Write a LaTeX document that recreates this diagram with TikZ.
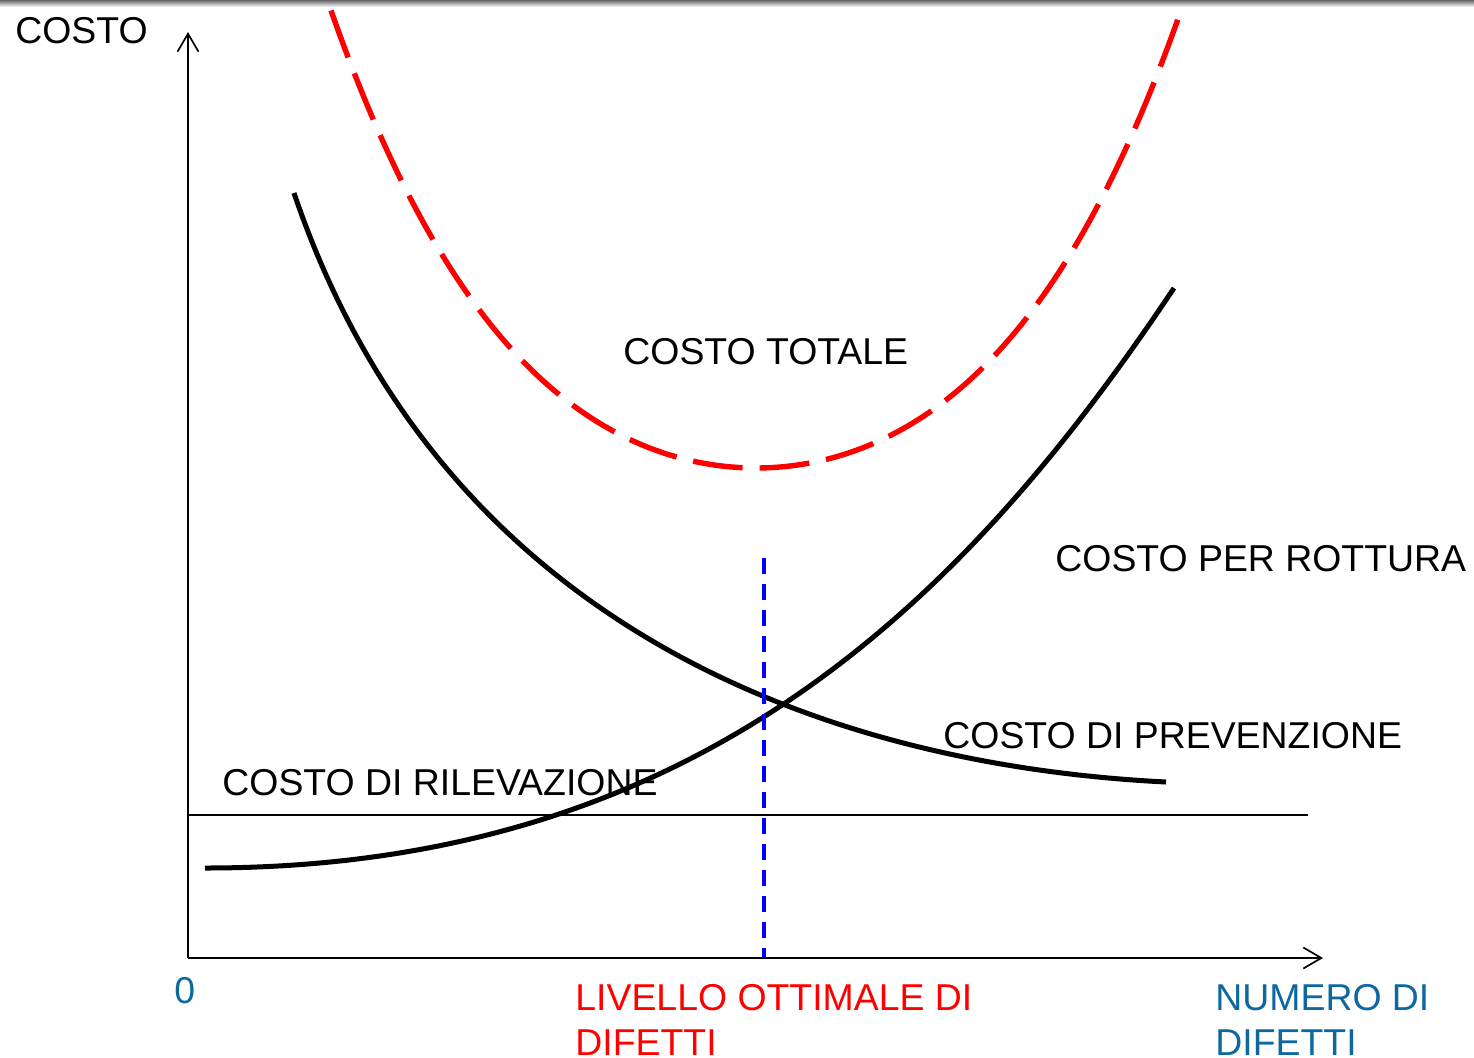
\documentclass[tikz,border=0pt]{standalone}
\usepackage{fontspec}
\setmainfont{Liberation Sans}
\usetikzlibrary{arrows.meta}
\definecolor{labelblue}{RGB}{14,104,160}
\definecolor{totred}{RGB}{255,0,0}
\definecolor{optblue}{RGB}{0,0,255}
\begin{document}
\begin{tikzpicture}[x=0.5pt,y=-0.5pt,
  lbl/.style={anchor=base west, inner sep=0pt, font=\fontsize{18.7pt}{22pt}\selectfont},
  axisline/.style={line width=0.85pt, -{Straight Barb[length=9pt,width=10.5pt,line width=0.85pt]}},
  thinline/.style={line width=0.75pt},
  costcurve/.style={line width=2.5pt},
  totale/.style={line width=2.7pt, totred, dash pattern=on 25pt off 8.5pt},
  optimum/.style={line width=2pt, optblue, dash pattern=on 8pt off 5pt}]
\useasboundingbox (0,0) rectangle (1474,1057);
\shade[top color=black!60, bottom color=white] (0,0) rectangle (1474,7);

% axes
\coordinate (O) at (188,958);
\coordinate (ytop) at (188,32);
\coordinate (xend) at (1323,958);
\draw[axisline] (O) -- (ytop);
\draw[axisline] (O) -- (xend);

% detection cost (constant)
\coordinate (ril1) at (188,815);
\coordinate (ril2) at (1308,815);
\draw[thinline] (ril1) -- (ril2);

% prevention cost
\coordinate (prevA) at (294,193);
\coordinate (prevB) at (1166,782);
\draw[costcurve] (prevA) .. controls (439,621) and (816,764.5) .. (prevB);

% failure cost
\coordinate (rottA) at (205,868);
\coordinate (rottB) at (1174,288);
\draw[costcurve] (rottA) .. controls (685,868) and (954,618) .. (rottB);

% total cost
\draw[totale] plot[domain=-4.25:4.25, samples=150, variable=\u] ({756+100*\u},{468-17.2*\u*\u-0.45*(\u*\u)*(\u*\u)});

% optimum
\coordinate (opttop) at (764,558);
\coordinate (optbot) at (764,958);
\draw[optimum] (opttop) -- (optbot);

% labels
\node[lbl] (lcosto) at (15,43) {COSTO};
\node[lbl] (ltot) at (623,364) {COSTO TOTALE};
\node[lbl] (lrott) at (1055,571) {COSTO PER ROTTURA};
\node[lbl] (lprev) at (943,748) {COSTO DI PREVENZIONE};
\node[lbl] (lril) at (222,795) {COSTO DI RILEVAZIONE};
\node[lbl, text=labelblue] (lzero) at (174,1003) {0};
\node[lbl, text=totred] (lopt1) at (575,1010) {LIVELLO OTTIMALE DI};
\node[lbl, text=totred] (lopt2) at (575,1055) {DIFETTI};
\node[lbl, text=labelblue] (lnum1) at (1215,1010) {NUMERO DI};
\node[lbl, text=labelblue] (lnum2) at (1215,1055) {DIFETTI};
\end{tikzpicture}
\end{document}
